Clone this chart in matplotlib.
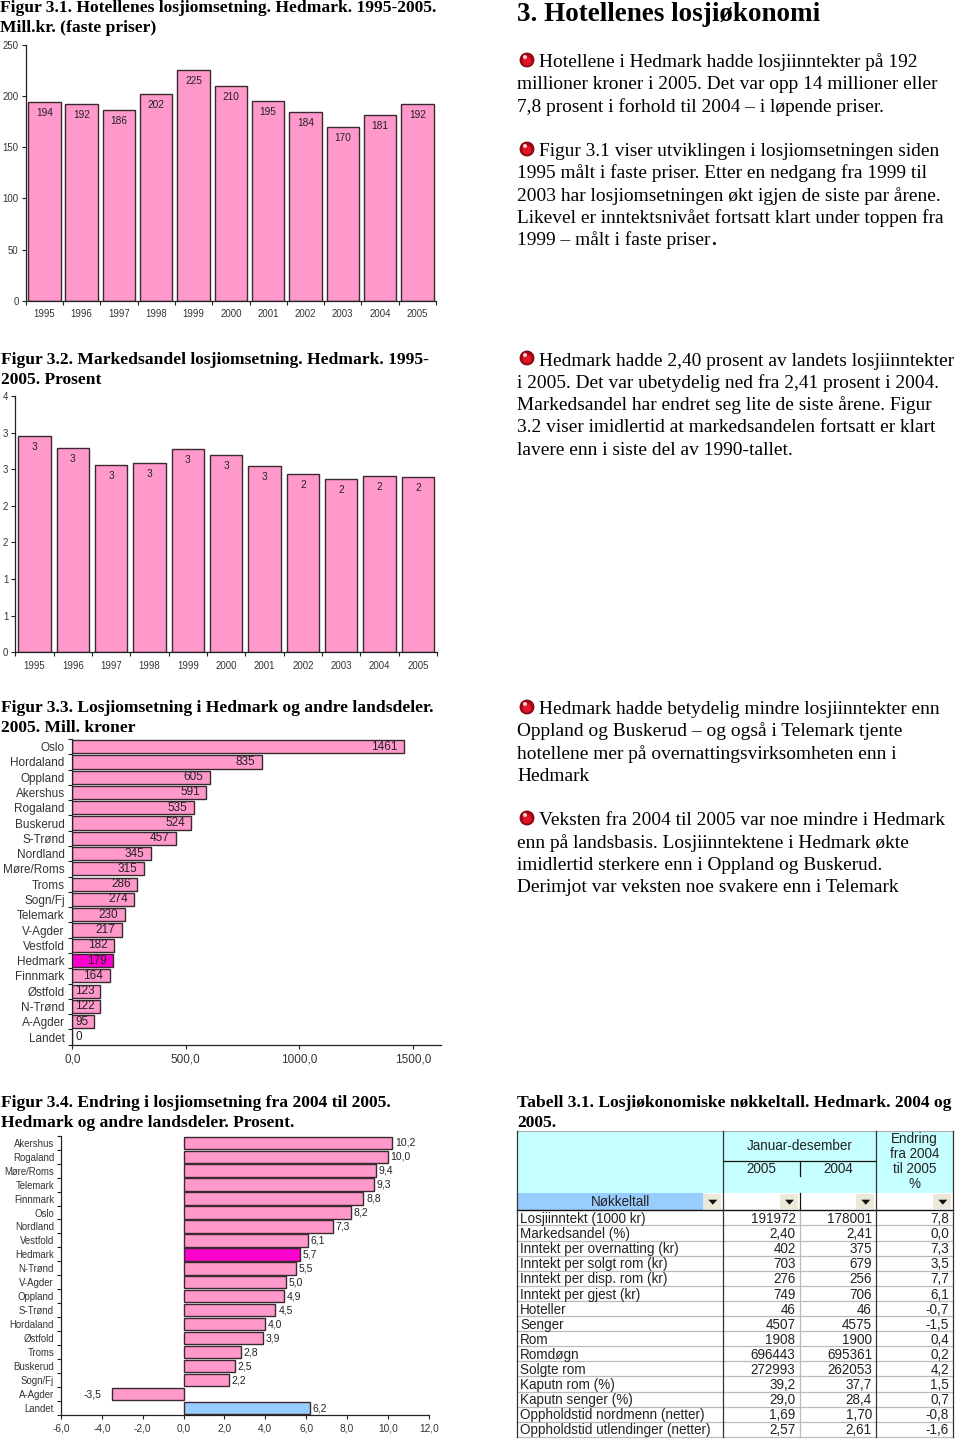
import matplotlib
matplotlib.use("Agg")
import matplotlib.pyplot as plt
from matplotlib.patches import Rectangle, Circle, Polygon

W, H = 960, 1439
PINK, HOT, BLUE, EDGE, AXC = "#FF99CC", "#FF00CC", "#99CCFF", "#3a2a30", "#222222"
SANS = ["Liberation Sans", "DejaVu Sans"]
SERIF = ["Liberation Serif", "DejaVu Serif"]

years = [str(y) for y in range(1995, 2006)]
revenue = [194, 192, 186, 202, 225, 210, 195, 184, 170, 181, 192]
share = [2.96, 2.79, 2.56, 2.59, 2.78, 2.69, 2.54, 2.44, 2.36, 2.41, 2.40]
share_ticks = [0, 0.5, 1, 1.5, 2, 2.5, 3, 3.5]
share_ticklabels = ["0", "1", "1", "2", "2", "3", "3", "4"]

regions_a = ["Oslo", "Hordaland", "Oppland", "Akershus", "Rogaland", "Buskerud", "S-Trønd",
             "Nordland", "Møre/Roms", "Troms", "Sogn/Fj", "Telemark", "V-Agder", "Vestfold",
             "Hedmark", "Finnmark", "Østfold", "N-Trønd", "A-Agder", "Landet"]
values_a = [1461, 835, 605, 591, 535, 524, 457, 345, 315, 286, 274, 230, 217, 182, 179, 164, 123, 122, 95, 0]

regions_b = ["Akershus", "Rogaland", "Møre/Roms", "Telemark", "Finnmark", "Oslo", "Nordland",
             "Vestfold", "Hedmark", "N-Trønd", "V-Agder", "Oppland", "S-Trønd", "Hordaland",
             "Østfold", "Troms", "Buskerud", "Sogn/Fj", "A-Agder", "Landet"]
values_b = [10.2, 10.0, 9.4, 9.3, 8.8, 8.2, 7.3, 6.1, 5.7, 5.5, 5.0, 4.9, 4.5, 4.0, 3.9, 2.8, 2.5, 2.2, -3.5, 6.2]

table_rows = ["Losjiinntekt (1000 kr)", "Markedsandel (%)", "Inntekt per overnatting (kr)",
              "Inntekt per solgt rom (kr)", "Inntekt per disp. rom (kr)", "Inntekt per gjest (kr)",
              "Hoteller", "Senger", "Rom", "Romdøgn", "Solgte rom", "Kaputn rom (%)",
              "Kaputn senger (%)", "Oppholdstid nordmenn (netter)", "Oppholdstid utlendinger (netter)"]
table_2005 = ["191972", "2,40", "402", "703", "276", "749", "46", "4507", "1908", "696443", "272993",
              "39,2", "29,0", "1,69", "2,57"]
table_2004 = ["178001", "2,41", "375", "679", "256", "706", "46", "4575", "1900", "695361", "262053",
              "37,7", "28,4", "1,70", "2,61"]
table_change = ["7,8", "0,0", "7,3", "3,5", "7,7", "6,1", "-0,7", "-1,5", "0,4", "0,2", "4,2",
                "1,5", "0,7", "-0,8", "-1,6"]

titles = [(0, 12, "Figur 3.1. Hotellenes losjiomsetning. Hedmark. 1995-2005."), (0, 32, "Mill.kr. (faste priser)"),
          (1, 364, "Figur 3.2. Markedsandel losjiomsetning. Hedmark. 1995-"), (1, 384, "2005. Prosent"),
          (1, 712, "Figur 3.3. Losjiomsetning i Hedmark og andre landsdeler."), (1, 732, "2005. Mill. kroner"),
          (1, 1107, "Figur 3.4. Endring i losjiomsetning fra 2004 til 2005."), (1, 1127, "Hedmark og andre landsdeler. Prosent."),
          (517, 1107, "Tabell 3.1. Losjiøkonomiske nøkkeltall. Hedmark. 2004 og"), (517, 1127, "2005.")]

body = [(539, 66.7, "Hotellene i Hedmark hadde losjiinntekter på 192"),
        (517, 89.2, "millioner kroner i 2005. Det var opp 14 millioner eller"),
        (517, 111.7, "7,8 prosent i forhold til 2004 – i løpende priser."),
        (539, 155.7, "Figur 3.1 viser utviklingen i losjiomsetningen siden"),
        (517, 177.7, "1995 målt i faste priser. Etter en nedgang fra 1999 til"),
        (517, 200.7, "2003 har losjiomsetningen økt igjen de siste par årene."),
        (517, 222.7, "Likevel er inntektsnivået fortsatt klart under toppen fra"),
        (517, 244.7, "1999 – målt i faste priser"),
        (539, 365.7, "Hedmark hadde 2,40 prosent av landets losjiinntekter"),
        (517, 387.7, "i 2005. Det var ubetydelig ned fra 2,41 prosent i 2004."),
        (517, 409.7, "Markedsandel har endret seg lite de siste årene. Figur"),
        (517, 431.7, "3.2 viser imidlertid at markedsandelen fortsatt er klart"),
        (517, 454.7, "lavere enn i siste del av 1990-tallet."),
        (539, 713.7, "Hedmark hadde betydelig mindre losjiinntekter enn"),
        (517, 735.7, "Oppland og Buskerud – og også i Telemark tjente"),
        (517, 758.7, "hotellene mer på overnattingsvirksomheten enn i"),
        (517, 780.7, "Hedmark"),
        (539, 824.7, "Veksten fra 2004 til 2005 var noe mindre i Hedmark"),
        (517, 847.7, "enn på landsbasis. Losjiinntektene i Hedmark økte"),
        (517, 869.7, "imidlertid sterkere enn i Oppland og Buskerud."),
        (517, 891.7, "Derimjot var veksten noe svakere enn i Telemark")]
bullets_y = [60, 149, 358, 707, 818]

fig = plt.figure(figsize=(W / 100, H / 100), dpi=100, facecolor="white")


def axes_px(x0, y0, x1, y1):
    ax = fig.add_axes([x0 / W, 1 - y1 / H, (x1 - x0) / W, (y1 - y0) / H])
    ax.patch.set_alpha(0)
    for s in ("top", "right"):
        ax.spines[s].set_visible(False)
    for s in ("left", "bottom"):
        ax.spines[s].set_color(AXC)
        ax.spines[s].set_linewidth(0.9)
    return ax


def style_ticks(ax, fs):
    ax.tick_params(which="major", length=3, width=0.8, color=AXC, labelsize=fs, pad=2, labelcolor="#333333")
    ax.tick_params(which="minor", length=0, labelsize=fs, pad=5, labelcolor="#333333")
    for t in ax.get_xticklabels(which="both") + ax.get_yticklabels(which="both"):
        t.set_family(SANS)


def year_chart(box, vals, ymax, yticks, ylabels, width, lab_fmt, pad):
    ax = axes_px(*box)
    xs = list(range(len(vals)))
    bars = ax.bar(xs, vals, width=width, color=PINK, edgecolor=EDGE, linewidth=1.0)
    ax.set_xlim(-0.5, len(vals) - 0.5)
    ax.set_ylim(0, ymax)
    ax.set_yticks(yticks, ylabels)
    ax.set_xticks([x - 0.5 for x in range(len(vals) + 1)], [""] * (len(vals) + 1))
    ax.set_xticks(xs, years, minor=True)
    style_ticks(ax, 6.9)
    ax.tick_params(axis="x", which="minor", pad=6)
    ax.bar_label(bars, labels=[lab_fmt(v) for v in vals], padding=pad, fontsize=7.3,
                 family=SANS, color="#222222")
    return ax


year_chart((25.7, 44.7, 436, 300.7), revenue, 250, [0, 50, 100, 150, 200, 250],
           ["0", "50", "100", "150", "200", "250"], 0.87, lambda v: str(v), -11.5)
year_chart((15.3, 396, 437, 652.3), share, 3.5, share_ticks, share_ticklabels, 0.85,
           lambda v: f"{v:.0f}", -11.5)

# Figure 3.3
ax = axes_px(72.3, 739, 440.7, 1044.7)
ys = list(range(len(values_a)))
ax.barh(ys, values_a, height=0.86, edgecolor=EDGE, linewidth=1.0,
        color=[HOT if r == "Hedmark" else PINK for r in regions_a])
ax.set_xlim(0, 1623)
ax.set_ylim(len(values_a) - 0.5, -0.5)
ax.set_xticks([0, 500, 1000, 1500], ["0,0", "500,0", "1000,0", "1500,0"])
ax.set_yticks([y - 0.5 for y in range(len(values_a) + 1)], [""] * (len(values_a) + 1))
ax.set_yticks(ys, regions_a, minor=True)
style_ticks(ax, 8.5)
ax.tick_params(axis="y", which="minor", pad=5.5)
ax.tick_params(axis="x", which="major", pad=3)
for y, v in zip(ys, values_a):
    if v > 130:
        ax.annotate(str(v), (v, y), xytext=(-4.5, 0), textcoords="offset points", ha="right",
                    va="center", fontsize=8.5, family=SANS, color="#222222")
    else:
        ax.annotate(str(v), (0, y), xytext=(2, 0), textcoords="offset points", ha="left",
                    va="center", fontsize=8.5, family=SANS, color="#222222")

# Figure 3.4
ax = axes_px(61, 1135.7, 428.7, 1415)
ys = list(range(len(values_b)))
ax.barh(ys, values_b, height=0.88, edgecolor=EDGE, linewidth=1.0,
        color=[HOT if r == "Hedmark" else BLUE if r == "Landet" else PINK for r in regions_b])
ax.set_xlim(-6, 12)
ax.set_ylim(len(values_b) - 0.5, -0.5)
xt = [-6, -4, -2, 0, 2, 4, 6, 8, 10, 12]
ax.set_xticks(xt, [f"{t:.1f}".replace(".", ",") for t in xt])
ax.set_yticks([y - 0.5 for y in range(len(values_b) + 1)], [""] * (len(values_b) + 1))
ax.set_yticks(ys, regions_b, minor=True)
style_ticks(ax, 6.9)
ax.tick_params(axis="y", which="minor", pad=5)
ax.tick_params(axis="x", which="major", labelsize=7.3, pad=3)
for y, v in zip(ys, values_b):
    off, ha = (2, "left") if v >= 0 else (-8, "right")
    ax.annotate(f"{v:.1f}".replace(".", ","), (v, y), xytext=(off, 0), textcoords="offset points",
                ha=ha, va="center", fontsize=7.5, family=SANS, color="#222222")

# Overlay in pixel coordinates: text, bullets, table
ov = fig.add_axes([0, 0, 1, 1], zorder=5)
ov.set_xlim(0, W)
ov.set_ylim(H, 0)
ov.axis("off")

for x, y, s in titles:
    ov.text(x, y, s, family=SERIF, fontweight="bold", fontsize=12.6, va="baseline", color="black")
ov.text(517, 21, "3. Hotellenes losjiøkonomi", family=SERIF, fontweight="bold", fontsize=19.5, va="baseline")
for x, y, s in body:
    ov.text(x, y, s, family=SERIF, fontsize=13.95, va="baseline", color="black")
ov.text(711, 244.7, ".", family=SERIF, fontsize=13.95, fontweight="bold", va="baseline")
for y in bullets_y:
    ov.add_patch(Circle((527, y), 7, fc="#B00010", ec="#5a0a10", lw=0.6))
    ov.add_patch(Circle((527, y + 1), 4.5, fc="#E01525", ec="none"))
    ov.add_patch(Circle((525, y - 3), 2, fc="#F8D0D0", ec="none"))

# Table
cols = [516.7, 723.3, 800, 876.3, 953.3]
top, band, head, filt = 1131, 1161, 1192.7, 1210.3
row_h = 15.1
n = len(table_rows)
bottom = filt + n * row_h
ov.add_patch(Rectangle((cols[0], top), cols[4] - cols[0], head - top, fc="#C6FFFF", ec="none"))
ov.add_patch(Rectangle((cols[0], head), 186, filt - head, fc=BLUE, ec="none"))
for x in (cols[1] - 20, cols[2] - 20, cols[3] - 20, cols[4] - 20):
    ov.add_patch(Rectangle((x, head + 1), 18, filt - head - 2, fc="#ECE9D8", ec="none"))
    ov.add_patch(Polygon([(x + 5, head + 7), (x + 14, head + 7), (x + 9.5, head + 12)], fc="#111111", ec="none"))
for i in range(n + 1):
    y = filt + i * row_h
    ov.plot([cols[0], cols[4]], [y, y], color="#111111" if i == 0 else "#BBBBBB", lw=1.0 if i == 0 else 0.9)
ov.plot([cols[0], cols[4]], [top, top], color="#AAAAAA", lw=0.8)
for x in (cols[0], cols[1], cols[3], cols[4]):
    ov.plot([x, x], [top, bottom], color="#333333", lw=0.9)
ov.plot([cols[2], cols[2]], [filt, bottom], color="#BBBBBB", lw=0.9)
ov.plot([cols[2], cols[2]], [band, band + 15], color="#111111", lw=0.9)
ov.plot([cols[2], cols[2]], [head, filt], color="#111111", lw=0.9)
ov.plot([cols[1], cols[3]], [band, band], color="#111111", lw=0.9)

TS = 9.75
tkw = dict(family=SANS, fontsize=TS, color="#222222", va="center")
ov.text((cols[1] + cols[3]) / 2, 1146, "Januar-desember", ha="center", **tkw)
ov.text(761.5, 1169, "2005", ha="center", **tkw)
ov.text(838, 1169, "2004", ha="center", **tkw)
for y, s in zip((1139, 1153.5, 1169, 1184), ("Endring", "fra 2004", "til 2005", "%")):
    ov.text(914.5, y, s, ha="center", **tkw)
ov.text(620, 1201.5, "Nøkkeltall", ha="center", **tkw)
for i in range(n):
    y = filt + (i + 0.5) * row_h + 1.2
    ov.text(520, y, table_rows[i], ha="left", **tkw)
    ov.text(795.5, y, table_2005[i], ha="right", **tkw)
    ov.text(872, y, table_2004[i], ha="right", **tkw)
    ov.text(949, y, table_change[i], ha="right", **tkw)

fig.savefig("out.png", dpi=100)
